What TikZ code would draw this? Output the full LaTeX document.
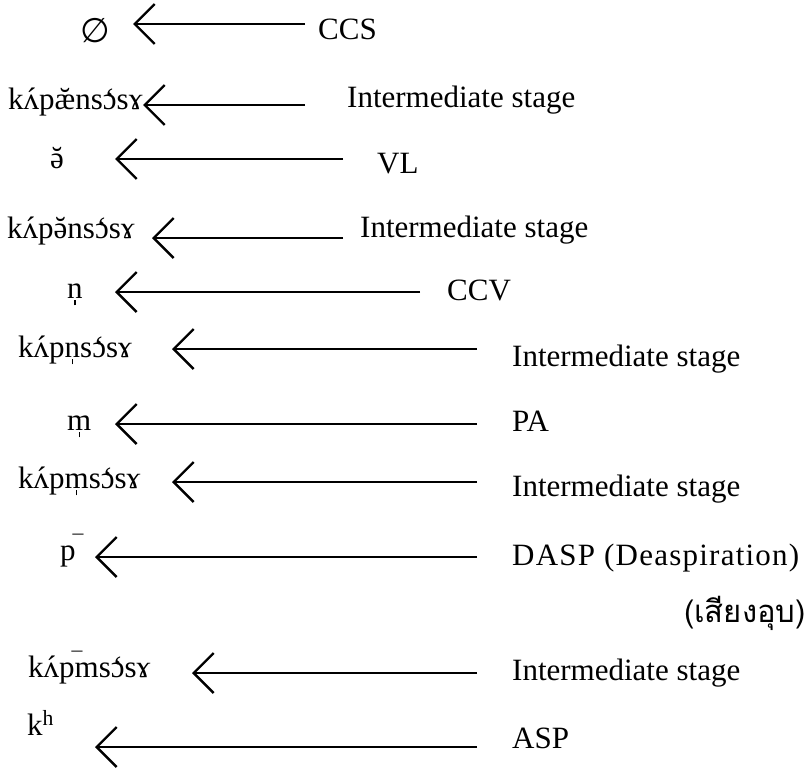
\documentclass[tikz,border=0pt]{standalone}
\usepackage{fontspec}
\setmainfont{Liberation Serif}
\newfontfamily\thaifont[Script=Thai]{Loma}
\newfontfamily\symfont{DejaVu Sans}
\usetikzlibrary{arrows.meta}
% diacritics put on by hand
\newcommand\acu[1]{{\accent"00B4 #1}}
\newcommand\brv[1]{{\accent"02D8 #1}}
\newcommand\grv[1]{{\accent"0060 #1}}
\newcommand\syl[1]{\ooalign{#1\crcr\hidewidth\rule[-0.24em]{0.045em}{0.17em}\hidewidth}}
\newcommand\pbar{p\rlap{\kern-0.1em\textsuperscript{¯}}}

\begin{document}
\begin{tikzpicture}[x=1pt, y=-1pt,
  form/.style={anchor=base west, inner sep=0pt, font=\fontsize{31}{36}\selectfont},
  stage/.style={anchor=base west, inner sep=0pt, font=\fontsize{31}{36}\selectfont},
  chev/.style={line width=2.2pt, -{Straight Barb[length=20pt,width=40pt,line width=2.4pt]}}]
\useasboundingbox (0,0) rectangle (811,768);

% forms on the left
\node[form, font=\fontsize{34}{38}\selectfont\symfont] (f1) at (80,43) {∅};
\node[form] (f2) at (8,110) {k\acu{ʌ}p\brv{æ}ns\grv{ɔ}sɤ};
\node[form] (f3) at (50,168) {\brv{ə}};
\node[form] (f4) at (7,238) {k\acu{ʌ}p\brv{ə}ns\grv{ɔ}sɤ};
\node[form] (f5) at (67,298) {\syl{n}};
\node[form] (f6) at (18,357) {k\acu{ʌ}p\syl{n}s\grv{ɔ}sɤ};
\node[form] (f7) at (67,430) {\syl{m}};
\node[form] (f8) at (18,488) {k\acu{ʌ}p\syl{m}s\grv{ɔ}sɤ};
\node[form] (f9) at (60,560) {\pbar};
\node[form] (f11) at (28,677) {k\acu{ʌ}\pbar ms\grv{ɔ}sɤ};
\node[form] (f12) at (27,735) {k\textsuperscript{h}};

% processes on the right
\node[stage] (l1) at (318,40) {CCS};
\node[stage] (l2) at (347,107) {Intermediate stage};
\node[stage] (l3) at (377,173) {VL};
\node[stage] (l4) at (360,237) {Intermediate stage};
\node[stage] (l5) at (447,300) {CCV};
\node[stage] (l6) at (512,366) {Intermediate stage};
\node[stage] (l7) at (512,431) {PA};
\node[stage] (l8) at (512,496) {Intermediate stage};
\node[stage] (l9) at (512,565) {\addfontfeature{LetterSpace=4}DASP (Deaspiration)};
\node[stage, anchor=base east] (l10) at (806,622) {\thaifont (เสียงอุบ)};
\node[stage] (l11) at (512,680) {Intermediate stage};
\node[stage] (l12) at (512,748) {ASP};

% arrows
\foreach \i/\ya/\xt/\xe in {1/24/133/305, 2/105/143/305, 3/159/115/343,
  4/238/152/343, 5/292/115/420, 6/349/172/477, 7/424/115/477,
  8/482/172/477, 9/557/95/477, 11/673/192/477, 12/747/95/477}
{
  \coordinate (t\i) at (\xt,\ya);
  \coordinate (e\i) at (\xe,\ya);
  \draw[chev] (e\i) -- (t\i);
}
\end{tikzpicture}
\end{document}
